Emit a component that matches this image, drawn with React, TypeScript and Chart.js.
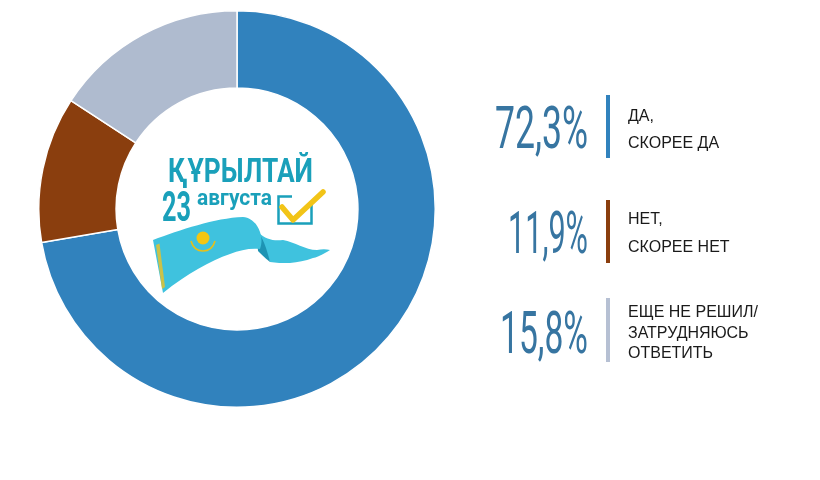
import React, { useEffect, useRef } from "react";
import { Chart, registerables } from "chart.js";

Chart.register(...registerables);

const categories = ["ДА, СКОРЕЕ ДА", "НЕТ, СКОРЕЕ НЕТ", "ЕЩЕ НЕ РЕШИЛ/ЗАТРУДНЯЮСЬ ОТВЕТИТЬ"];
const values = [72.3, 11.9, 15.8];
const valueLabels = ["72,3%", "11,9%", "15,8%"];
const labelLines = [
  ["ДА,", "СКОРЕЕ ДА"],
  ["НЕТ,", "СКОРЕЕ НЕТ"],
  ["ЕЩЕ НЕ РЕШИЛ/", "ЗАТРУДНЯЮСЬ", "ОТВЕТИТЬ"],
];
const colors = ["#3182bd", "#8a3e0e", "#afbbcf"];
const barColors = ["#3182bd", "#8a3e0e", "#b6c0d3"];

const logoTitle = "ҚҰРЫЛТАЙ";
const logoDay = "23";
const logoMonth = "августа";

// layout of the legend blocks (positions only)
const blocks = [
  { numBase: 148, numW: 93, barTop: 95, barBot: 158, lineBase: [121, 148] },
  { numBase: 253, numW: 80, barTop: 200, barBot: 263, lineBase: [224, 252] },
  { numBase: 353, numW: 88, barTop: 298, barBot: 362, lineBase: [317, 338, 358] },
];

export default function App() {
  const ref = useRef<HTMLCanvasElement | null>(null);

  useEffect(() => {
    if (!ref.current) return;
    const chart = new Chart(ref.current, {
      type: "doughnut",
      data: {
        labels: categories,
        datasets: [
          {
            data: values,
            backgroundColor: colors,
            borderColor: "#ffffff",
            borderWidth: 1.5,
          },
        ],
      },
      options: {
        animation: false,
        responsive: false,
        maintainAspectRatio: false,
        cutout: "61%",
        layout: { padding: 0 },
        plugins: {
          legend: { display: false },
          tooltip: { enabled: false },
        },
      },
    });
    return () => chart.destroy();
  }, []);

  const teal = "#1aa0ba";
  const ribbon = "#3fc2de";

  return (
    <div
      style={{
        position: "absolute",
        left: 0,
        top: 0,
        width: 820,
        height: 480,
        background: "#ffffff",
        overflow: "hidden",
      }}
    >
      <canvas
        ref={ref}
        width={398}
        height={398}
        style={{ position: "absolute", left: 38, top: 10, width: 398, height: 398 }}
      />
      <svg
        width={820}
        height={480}
        style={{ position: "absolute", left: 0, top: 0 }}
      >
        {/* Center logo */}
        <text
          x={168}
          y={182}
          fontFamily="Roboto, 'Liberation Sans', sans-serif"
          fontWeight={700}
          fontSize={33}
          fill={teal}
          textLength={145}
          lengthAdjust="spacingAndGlyphs"
        >
          {logoTitle}
        </text>
        <text
          x={162}
          y={221}
          fontFamily="Roboto, 'Liberation Sans', sans-serif"
          fontWeight={700}
          fontSize={42}
          fill={teal}
          textLength={29}
          lengthAdjust="spacingAndGlyphs"
        >
          {logoDay}
        </text>
        <text
          x={197}
          y={205}
          fontFamily="Roboto, 'Liberation Sans', sans-serif"
          fontWeight={700}
          fontSize={22}
          fill={teal}
          textLength={75}
          lengthAdjust="spacingAndGlyphs"
        >
          {logoMonth}
        </text>
        {/* checkbox */}
        <path
          d="M 292 196.5 L 278.5 196.5 L 278.5 223.5 L 311.5 223.5 L 311.5 205"
          fill="none"
          stroke={teal}
          strokeWidth={2.5}
        />
        <path
          d="M 282 207 L 293 220 L 323 192"
          fill="none"
          stroke="#f2c417"
          strokeWidth={5.5}
          strokeLinecap="round"
          strokeLinejoin="round"
        />
        {/* ribbon back part */}
        <path
          d="M 258 232 C 266 240 274 241 283 240 C 295 242 305 250 317 250 C 322 249 326 249 330 250 C 324 254 318 257 313 258 C 305 261 298 262 290 263 C 282 263 276 263 270 262 Z"
          fill={ribbon}
        />
        <path
          d="M 256 229 C 262 236 266 246 270 262 C 266 259 262 255 258 251 Z"
          fill="#1e93b3"
        />
        {/* ribbon front part */}
        <path
          d="M 153 240 C 180 230 215 218 243 217 C 252 218 257 224 260 232 C 262 238 262 243 260 249 C 250 248 240 250 230 254 C 210 261 188 273 163 293 Z"
          fill={ribbon}
        />
        {/* ornament strip */}
        <path d="M 156 245 L 159.5 243.5 L 165 287 L 162 289 Z" fill="#d9c23a" opacity={0.9} />
        {/* emblem */}
        <circle cx={203} cy={238} r={6.5} fill="#f3c612" />
        <path
          d="M 191 241 C 193 248 198 251 203 251 C 208 251 213 248 215 241"
          fill="none"
          stroke="#e7c019"
          strokeWidth={1.6}
        />
        {/* legend blocks */}
        {blocks.map((b, i) => (
          <g key={i}>
            <text
              x={588}
              y={b.numBase}
              textAnchor="end"
              fontFamily="Roboto, 'Liberation Sans', sans-serif"
              fontWeight={400}
              fontSize={60}
              fill="#3775a1"
              textLength={b.numW}
              lengthAdjust="spacingAndGlyphs"
            >
              {valueLabels[i]}
            </text>
            <rect x={606} y={b.barTop} width={4} height={b.barBot - b.barTop} fill={barColors[i]} />
            {labelLines[i].map((line, j) => (
              <text
                key={j}
                x={628}
                y={b.lineBase[j]}
                fontFamily="'Liberation Sans', Arial, sans-serif"
                fontSize={16}
                fill="#1a1a1a"
              >
                {line}
              </text>
            ))}
          </g>
        ))}
      </svg>
    </div>
  );
}
